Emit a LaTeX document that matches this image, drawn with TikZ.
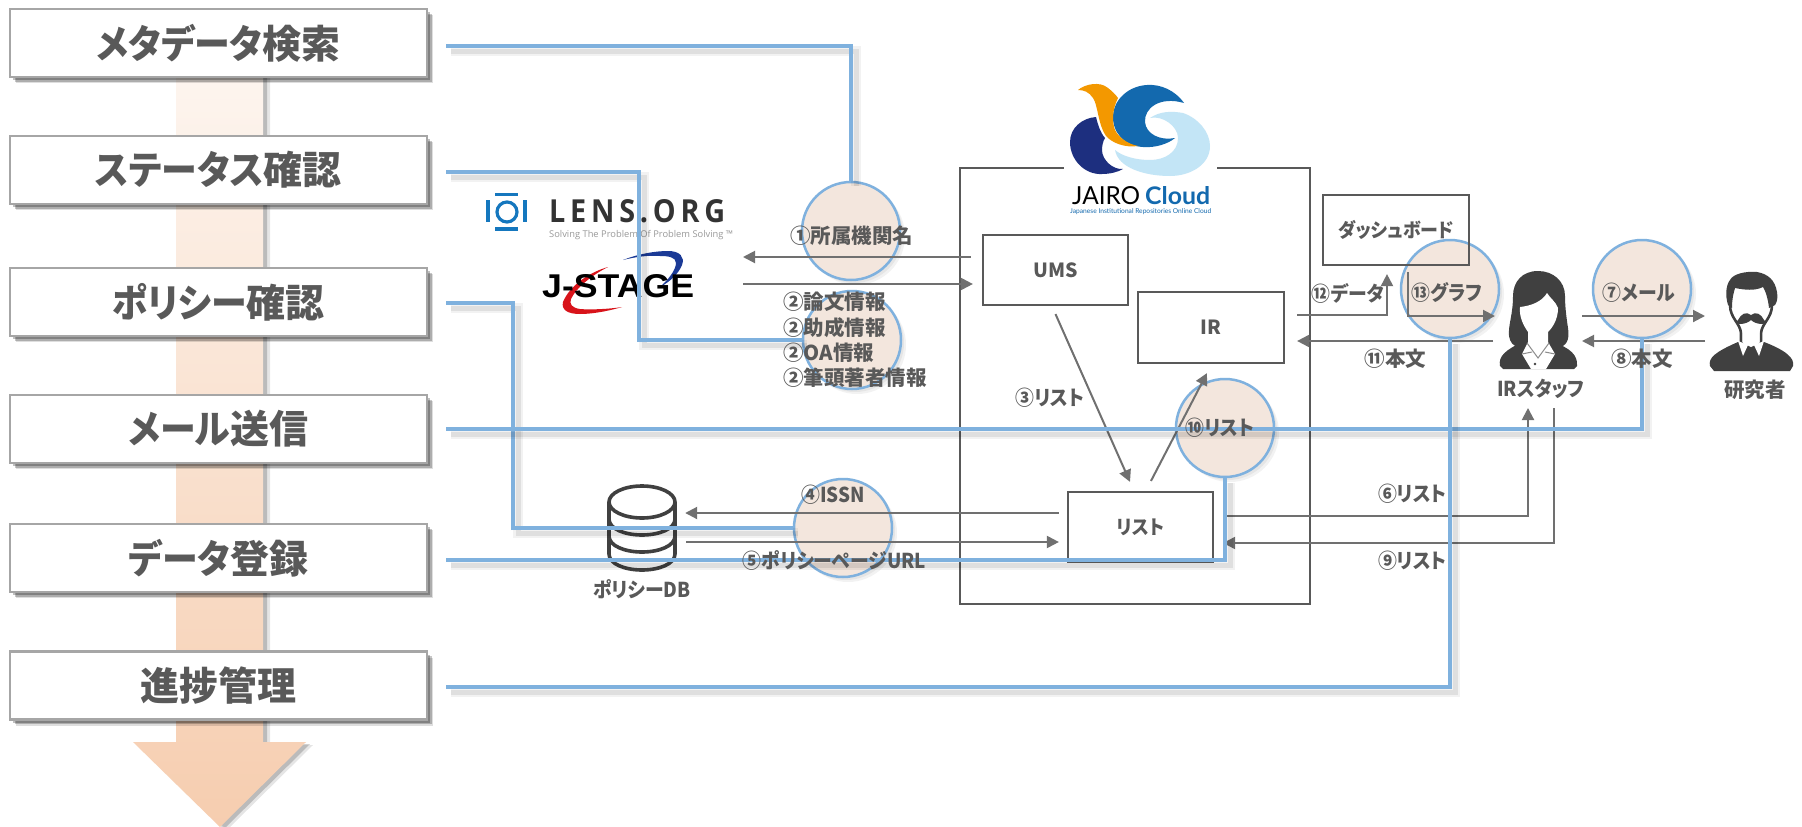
\documentclass[tikz,border=0pt]{standalone}
\usepackage{fontspec}
\usepackage{graphicx}
\usetikzlibrary{arrows.meta,shadows}
\setmainfont{Noto Sans CJK JP}[RawFeature=+palt]
\newfontfamily\lensfont{Open Sans}
\newfontfamily\stagefont{Liberation Sans}
\newfontfamily\jairofont{Lato}
\newcommand{\knar}[1]{\scalebox{.92}[1]{#1}}
\definecolor{txt}{HTML}{595959}
\definecolor{lin}{HTML}{707070}
\definecolor{frm}{HTML}{595959}
\definecolor{blu}{HTML}{7FB1DE}
\definecolor{pch}{HTML}{F3E6DD}
\definecolor{ico}{HTML}{404040}
\definecolor{shafttop}{HTML}{FDF5EF}
\definecolor{shaftbot}{HTML}{F6CDAF}
\definecolor{oran}{HTML}{F39800}
\definecolor{navyb}{HTML}{1D2F7F}
\definecolor{lightb}{HTML}{C3E5F6}
\definecolor{jairob}{HTML}{1369AE}
\definecolor{lensb}{HTML}{1577BE}
\definecolor{jred}{HTML}{D8131A}
\definecolor{jblu}{HTML}{1B3A96}
\tikzset{
  x=1pt,y=-1pt,
  softb/.style={general shadow={fill=black,opacity=.13,shadow xshift=6pt,shadow yshift=-6pt},
                general shadow={fill=black,opacity=.22,shadow xshift=4.5pt,shadow yshift=-4.5pt},
                general shadow={fill=black,opacity=.25,shadow xshift=3pt,shadow yshift=-3pt}},
  softc/.style={general shadow={fill=black,opacity=.05,shadow xshift=5pt,shadow yshift=-5pt},
                general shadow={fill=black,opacity=.05,shadow xshift=3pt,shadow yshift=-3pt}},
  stage/.style={draw=black!35,line width=2.5pt,fill=white,minimum width=417pt,minimum height=68pt,
    inner sep=0pt,text=txt,font=\fontsize{39}{42}\selectfont\bfseries,softb},
  ring/.style={circle,draw=blu,line width=2.5pt,fill=pch,minimum size=98pt,inner sep=0pt,softc},
  frame/.style={draw=frm,line width=2.2pt,inner sep=0pt,text=txt,font=\fontsize{19.5}{22}\selectfont\bfseries},
  lab/.style={inner sep=0pt,text=txt,font=\fontsize{20.5}{22}\selectfont\bfseries},
  labl/.style={lab,anchor=west},
  flow/.style={draw=lin,line width=2pt,-{Triangle[length=12pt,width=12pt]}},
  link/.style={draw=blu,line width=3.2pt,line join=miter,
    preaction={draw=black,opacity=.05,line width=10pt,transform canvas={xshift=5pt,yshift=-5pt}},
    preaction={draw=black,opacity=.08,line width=5pt,transform canvas={xshift=5pt,yshift=-5pt}}},
  iconf/.style={fill=ico,draw=none},
  whitef/.style={fill=white,draw=none},
}
\begin{document}
\begin{tikzpicture}
\useasboundingbox (0,0) rectangle (1802,827);
\fill[white] (0,0) rectangle (1802,827);

% progress arrow
\def\shaftpath{(176,70) -- (263,70) -- (263,742) -- (306,742) -- (220,827) -- (133,742) -- (176,742) -- cycle}
\fill[black,opacity=.10,xshift=7pt,yshift=-3pt] \shaftpath;
\fill[black,opacity=.18,xshift=4pt,yshift=-2pt] \shaftpath;
\path[top color=shafttop,bottom color=shaftbot] \shaftpath;

% rings
\node[ring] (c1) at (851,231) {};
\node[ring] (c2) at (852,340) {};
\node[ring] (c4) at (843,528) {};
\node[ring] (c10) at (1225,428) {};
\node[ring] (c13) at (1450,289) {};
\node[ring] (c7) at (1642,289) {};

% frames
\node[draw=frm,line width=2.2pt,minimum width=350pt,minimum height=436pt,inner sep=0pt] (jc) at (1135,386) {};
\node[frame,minimum width=145pt,minimum height=70pt] (ums) at (1055.5,270) {UMS};
\node[frame,minimum width=146pt,minimum height=71pt] (ir) at (1211,327.5) {IR};
\node[frame,minimum width=145pt,minimum height=70pt] (list) at (1140.5,527) {\knar{リスト}};
\node[frame,minimum width=145.5pt,minimum height=70pt] (dash) at (1396,230) {\knar{ダッシュボード}};

% JAIRO Cloud logo
\fill[white] (1064,160) rectangle (1217,176);
\fill[fill=navyb] (1096,117) .. controls (1082,118) and (1070,128) .. (1070,142) .. controls (1070,160) and (1085,175) .. (1102,174) .. controls (1110,174) and (1118,172) .. (1123,169) .. controls (1113,170) and (1102,160) .. (1102,150) .. controls (1102,146) and (1103,141) .. (1105,138) .. controls (1100,132) and (1098,125) .. (1096,117) -- cycle;
\fill[fill=lightb] (1150,118) .. controls (1160,111) and (1172,111) .. (1183,113) .. controls (1198,118) and (1210,132) .. (1210,146) .. controls (1210,165) and (1190,176) .. (1170,176) .. controls (1145,176) and (1118,168) .. (1115,150) .. controls (1122,156) and (1135,160) .. (1150,160) .. controls (1165,160) and (1178,152) .. (1178,138) .. controls (1178,126) and (1162,115) .. (1150,118) -- cycle;
\fill[fill=jairob] (1184,103) .. controls (1175,90) and (1160,84) .. (1147,85) .. controls (1128,86) and (1114,100) .. (1113,115) .. controls (1112,132) and (1124,146) .. (1143,147) .. controls (1155,148) and (1168,144) .. (1175,138) .. controls (1160,141) and (1146,134) .. (1145,122) .. controls (1144,108) and (1160,96) .. (1184,103) -- cycle;
\fill[fill=oran] (1078,90) .. controls (1085,84) and (1100,81) .. (1108,88) .. controls (1112,91) and (1116,95) .. (1118,98) .. controls (1112,110) and (1112,122) .. (1115,130) .. controls (1119,138) and (1128,144) .. (1138,146) .. controls (1125,148) and (1112,143) .. (1106,136) .. controls (1098,125) and (1098,105) .. (1093,98) .. controls (1089,92) and (1084,90) .. (1078,90) -- cycle;
\node[inner sep=0pt,anchor=west,text=black] (jairoA) at (1072,196) {\resizebox{68pt}{18pt}{\jairofont JAIRO}};
\node[inner sep=0pt,anchor=west,text=jairob] (jairoB) at (1145,196) {\resizebox{65pt}{18pt}{\jairofont\bfseries Cloud}};
\node[inner sep=0pt,anchor=west,text=jairob] (jairoC) at (1070,212) {\resizebox{141pt}{!}{\jairofont Japanese Institutional Repositories Online Cloud}};

% LENS.ORG logo
\draw[lensb,line width=3.2pt] (507,212) circle (10);
\draw[lensb,line width=3.2pt] (495,194.5) -- (518,194.5) (495,229) -- (518,229) (488,200) -- (488,222) (525,200) -- (525,222);
\node[inner sep=0pt,anchor=west,text=black!80] (lens) at (549,211.5) {\resizebox{176pt}{23pt}{\lensfont\bfseries L\,E\,N\,S\,.\,O\,R\,G}};
\node[inner sep=0pt,anchor=west,text=black!40] (lenssub) at (549,235) {\resizebox{184pt}{!}{\lensfont Solving The Problem Of Problem Solving ™}};

% J-STAGE logo
\fill[fill=jred] (608,267) .. controls (590,272) and (570,285) .. (563,302) .. controls (561,310) and (568,314) .. (580,314) .. controls (595,314) and (612,310) .. (622,307) .. controls (610,309) and (590,310) .. (580,309) .. controls (572,308) and (569,304) .. (571,299) .. controls (576,288) and (592,275) .. (608,267) -- cycle;
\fill[fill=jblu] (623,260) .. controls (638,254) and (655,251) .. (668,251) .. controls (680,251) and (685,257) .. (682,265) .. controls (679,273) and (670,282) .. (660,287) .. controls (668,280) and (676,270) .. (676,263) .. controls (676,257) and (668,256) .. (660,256) .. controls (648,255) and (635,257) .. (623,260) -- cycle;
\node[inner sep=0pt,anchor=west,text=black] (jstage) at (542,286.5) {\resizebox{152pt}{23pt}{\stagefont\bfseries J-STAGE}};

% policy DB icon
\node[inner sep=0pt,minimum width=68pt,minimum height=85pt] (db) at (642,527) {};
\draw[ico,line width=3.6pt] (642,502) ellipse (33 and 16);
\draw[ico,line width=3.6pt] (609,502) -- (609,554) .. controls (609,564) and (625,570) .. (642,570) .. controls (659,570) and (675,564) .. (675,554) -- (675,502);
\draw[ico,line width=3.6pt] (609,519) .. controls (609,529) and (625,535) .. (642,535) .. controls (659,535) and (675,529) .. (675,519);
\draw[ico,line width=3.6pt] (609,536) .. controls (609,546) and (625,552) .. (642,552) .. controls (659,552) and (675,546) .. (675,536);
\node[lab] (dbl) at (642,589) {\knar{ポリシーDB}};

% IR staff icon
\fill[iconf] (1538,271) .. controls (1522,271) and (1513,282) .. (1513,296) .. controls (1513,315) and (1508,325) .. (1509,336) .. controls (1510,342) and (1513,347) .. (1520,347) -- (1558,347) .. controls (1566,347) and (1570,340) .. (1568,328) .. controls (1566,315) and (1565,305) .. (1565,296) .. controls (1565,281) and (1553,271) .. (1538,271) -- cycle;
\fill[iconf] (1500,366) .. controls (1498,356) and (1506,350) .. (1522,342) -- (1553,342) .. controls (1570,348) and (1578,355) .. (1577,366) -- (1574,369) -- (1503,369) -- cycle;
\fill[whitef] (1520,307) .. controls (1530,306) and (1542,302) .. (1547,293) .. controls (1550,298) and (1556,302) .. (1558,308) .. controls (1558,320) and (1552,328) .. (1548,332) -- (1548,342) -- (1555,354) -- (1546,369) -- (1531,369) -- (1522,354) -- (1528,342) -- (1528,332) .. controls (1524,326) and (1519,318) .. (1520,307) -- cycle;
\draw[ico!60,line width=1pt] (1527,343) -- (1538,358) -- (1549,343) (1522,354) -- (1532,352) (1555,354) -- (1545,352);
\fill[ico] (1535,364) circle (1.3);
\node[lab] (staff) at (1541,389) {\knar{IRスタッフ}};

% researcher icon
\fill[iconf] (1728,305) .. controls (1725,295) and (1726,285) .. (1730,280) .. controls (1733,274) and (1745,271) .. (1757,272) .. controls (1768,274) and (1775,280) .. (1777,292) .. controls (1778,298) and (1777,302) .. (1775,305) -- (1769,308) .. controls (1768,298) and (1765,290) .. (1763,287) .. controls (1755,291) and (1745,290) .. (1735,288) .. controls (1733,295) and (1732,300) .. (1732,308) -- cycle;
\draw[ico,line width=2.6pt] (1730,305) .. controls (1730,318) and (1740,323) .. (1741,333) -- (1741,342);
\draw[ico,line width=2.6pt] (1772,305) .. controls (1772,318) and (1762,323) .. (1761,333) -- (1761,342);
\fill[iconf] (1751,315) .. controls (1746,311) and (1741,314) .. (1738,320) .. controls (1736,323) and (1733,322) .. (1740,324) .. controls (1745,324) and (1749,322) .. (1751,320) .. controls (1753,322) and (1757,324) .. (1762,324) .. controls (1769,322) and (1766,323) .. (1764,320) .. controls (1761,314) and (1756,311) .. (1751,315) -- cycle;
\fill[iconf] (1710,366) .. controls (1708,358) and (1715,352) .. (1738,342) -- (1764,342) .. controls (1785,350) and (1795,358) .. (1793,366) -- (1790,371) -- (1714,371) -- cycle;
\fill[whitef] (1738,341) -- (1748,345) -- (1743,356) -- cycle;
\fill[whitef] (1764,341) -- (1754,345) -- (1759,356) -- cycle;
\fill[whitef] (1742.5,332) -- (1759.5,332) -- (1759.5,343) -- (1751,347) -- (1742.5,343) -- cycle;
\node[lab] (res) at (1755,390) {研究者};

% free ends of the flows
\coordinate (src1) at (743,257);
\coordinate (src2) at (743,284);
\coordinate (st6) at (1528,408);
\coordinate (st9) at (1554,408);
\coordinate (wl1) at (1495,316);
\coordinate (wl2) at (1493,341);
\coordinate (wr1) at (1582,316);
\coordinate (wr2) at (1582,341);
\coordinate (rl1) at (1705,316);
\coordinate (rl2) at (1705,341);

% flows
\draw[flow] ([xshift=-11pt,yshift=13pt]ums.west) -- (src1);
\draw[flow] (src2) -- ([xshift=-9pt,yshift=-14pt]ums.west);
\draw[flow] ([yshift=-8pt]ums.south) -- ([xshift=-10.5pt,yshift=9pt]list.north);
\draw[flow] ([xshift=10.5pt,yshift=10pt]list.north) -- ([xshift=-4pt,yshift=-9pt]ir.south);
\draw[flow] ([xshift=-8pt,yshift=14pt]list.west) -- ([xshift=9pt,yshift=14pt]db.east);
\draw[flow] ([xshift=10pt,yshift=-15pt]db.east) -- ([xshift=-8pt,yshift=-15pt]list.west);
\draw[flow] ([xshift=9pt,yshift=11pt]list.east) -| (st6);
\draw[flow] (st9) |- ([xshift=9pt,yshift=-16pt]list.east);
\draw[flow] ([xshift=12pt,yshift=12.5pt]ir.east) -| ([xshift=-9pt,yshift=-8pt]dash.south);
\draw[flow] ([xshift=12pt,yshift=-6pt]dash.south) |- (wl1);
\draw[flow] (wl2) -- ([xshift=12pt,yshift=-13.5pt]ir.east);
\draw[flow] (wr1) -- (rl1);
\draw[flow] (rl2) -- (wr2);

% process steps
\node[stage] (s1) at (218.5,43) {\knar{メタデータ}検索};
\node[stage] (s2) at (218.5,170) {\knar{ステータス}確認};
\node[stage] (s3) at (218.5,302) {\knar{ポリシー}確認};
\node[stage] (s4) at (218.5,429) {\knar{メール}送信};
\node[stage] (s5) at (218.5,558) {\knar{データ}登録};
\node[stage] (s6) at (218.5,685.5) {進捗管理};

% links from steps to rings
\coordinate (m2) at (639,340);
\coordinate (m3) at (513,528);
\draw[link] ([xshift=18pt,yshift=-3pt]s1.east) -| (c1.north);
\draw[link] ([xshift=18pt,yshift=-2pt]s2.east) -| (m2) -- (c2.west);
\draw[link] ([xshift=18pt,yshift=-1pt]s3.east) -| (m3) -- (c4.west);
\draw[link] ([xshift=18pt]s4.east) -| (c7.south);
\draw[link] ([xshift=18pt,yshift=-2pt]s5.east) -| (c10.south);
\draw[link] ([xshift=18pt,yshift=-1.5pt]s6.east) -| (c13.south);

% labels
\node[lab] (t1) at (851.5,236) {①所属機関名};
\node[labl] (t2a) at (783,302) {②論文情報};
\node[labl] (t2b) at (783,328) {②助成情報};
\node[labl] (t2c) at (783,353) {②OA情報};
\node[labl] (t2d) at (783,378) {②筆頭著者情報};
\node[lab] (t3) at (1050,398) {\knar{③リスト}};
\node[lab] (t4) at (833,495) {\knar{④ISSN}};
\node[lab] (t5) at (834.5,560) {\knar{⑤ポリシーページURL}};
\node[lab] (t6) at (1412.5,494) {\knar{⑥リスト}};
\node[lab] (t9) at (1412.5,561) {\knar{⑨リスト}};
\node[lab] (t10) at (1220,428) {\knar{⑩リスト}};
\node[lab] (t7) at (1639,293) {\knar{⑦メール}};
\node[lab] (t8) at (1642,359) {⑧本文};
\node[lab] (t11) at (1395.5,359) {⑪本文};
\node[lab] (t12) at (1348,293) {\knar{⑫データ}};
\node[lab] (t13) at (1447,293) {\knar{⑬グラフ}};
\end{tikzpicture}
\end{document}
